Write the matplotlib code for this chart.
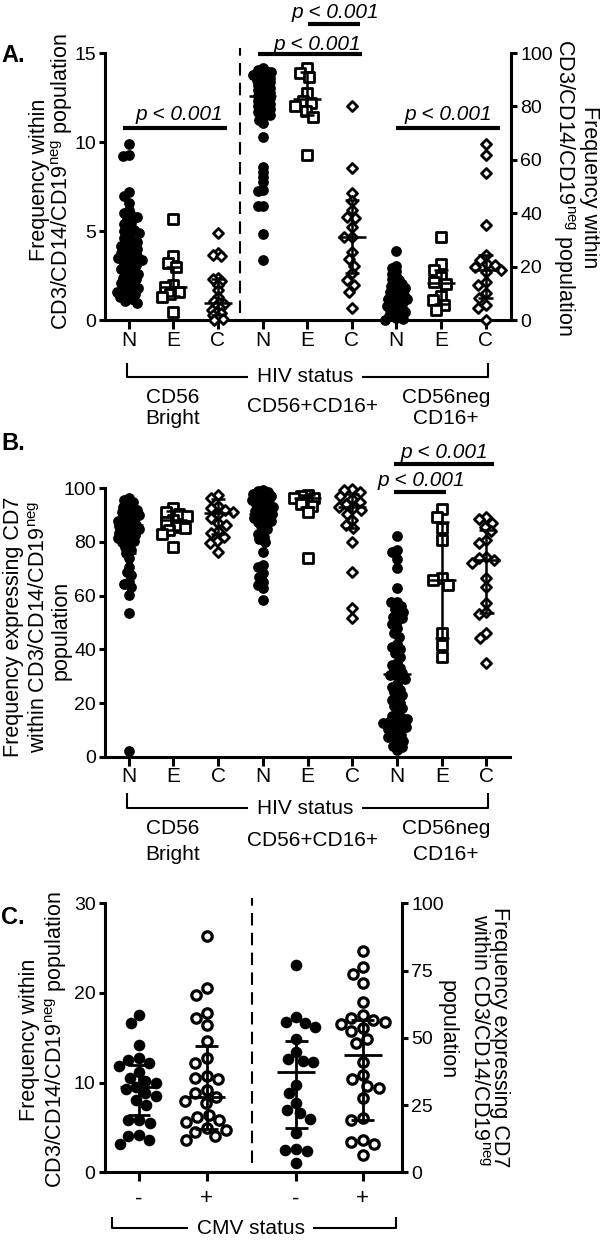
import numpy as np
import matplotlib
matplotlib.use("Agg")
import matplotlib.pyplot as plt
from matplotlib.lines import Line2D

plt.rcParams['font.family'] = ['Liberation Sans', 'DejaVu Sans']
plt.rcParams['mathtext.fontset'] = 'custom'
plt.rcParams['mathtext.rm'] = 'Liberation Sans'
plt.rcParams['mathtext.it'] = 'Liberation Sans:italic'
plt.rcParams['mathtext.bf'] = 'Liberation Sans:bold'

# ---------------- DATA ----------------
cat_labels_AB = ['N', 'E', 'C', 'N', 'E', 'C', 'N', 'E', 'C']
cat_labels_C = ['-', '+', '-', '+']

# Panel A (groups 1-3 on left axis 0-15, groups 4-9 on right axis 0-100)
A_bright_N = [9.9, 9.3, 9.2, 7.2, 7.0, 6.6, 6.2, 6.0, 5.9, 5.8, 5.7, 5.5, 5.4, 5.2, 5.1, 5.0,
              4.9, 4.8, 4.6, 4.5, 4.4, 4.3, 4.2, 4.1, 4.0, 3.9, 3.8, 3.7, 3.6, 3.5, 3.5, 3.4,
              3.3, 3.2, 3.1, 3.0, 2.9, 2.8, 2.7, 2.6, 2.5, 2.4, 2.3, 2.2, 2.1, 2.0, 1.9, 1.8,
              1.7, 1.6, 1.6, 1.5, 1.4, 1.3, 1.2, 1.1, 1.0]
A_bright_E = [5.7, 3.6, 3.2, 3.0, 2.0, 1.9, 1.6, 1.5, 1.3, 0.5]
A_bright_C = [4.9, 3.8, 3.7, 3.6, 2.4, 2.3, 2.2, 2.0, 1.7, 1.3, 1.1, 1.0, 0.9, 0.8, 0.7,
              0.6, 0.5, 0.4, 0.3, 0.2, 0.1, 0.0]
A_dp_N = [94.3, 93.8, 93.2, 92.8, 92.4, 92.0, 91.6, 91.2, 90.8, 90.4, 90.0, 89.5, 89.0, 88.5,
          88.0, 87.5, 87.0, 86.5, 86.0, 85.5, 85.0, 84.5, 84.0, 83.5, 83.0, 82.5, 82.0, 81.5,
          81.0, 80.5, 80.0, 79.5, 79.0, 78.5, 78.0, 77.5, 77.0, 76.0, 75.0, 74.0, 68.5, 57.5,
          55.6, 53.8, 51.9, 48.6, 48.5, 42.9, 42.9, 32.2, 22.5]
A_dp_E = [94.3, 92.4, 91.0, 84.9, 82.0, 81.3, 80.0, 78.5, 76.2, 61.9]
A_dp_C = [80.2, 56.9, 47.7, 44.7, 41.3, 38.8, 38.2, 35.1, 31.1, 31.1, 25.7, 22.9, 20.5, 17.6,
          15.1, 13.3, 10.8, 4.6]
A_neg_N = [26.1, 20.5, 19.8, 18.5, 17.5, 16.5, 15.5, 15.0, 14.0, 13.5, 13.0, 12.5, 12.0, 11.5,
           11.0, 10.5, 10.0, 9.5, 9.0, 8.5, 8.0, 8.0, 7.5, 7.0, 6.5, 6.0, 5.5, 5.0, 4.5, 4.0,
           3.5, 3.0, 2.5, 2.0, 1.5, 1.0, 0.5, 0.2]
A_neg_E = [31.1, 21.0, 18.9, 16.4, 14.5, 13.5, 9.0, 7.7, 5.8, 3.9]
A_neg_C = [66.0, 61.9, 55.0, 35.7, 24.5, 22.5, 21.0, 20.7, 20.1, 19.0, 18.0, 14.5, 13.3, 10.2,
           8.5, 5.8, 4.6, 0.2]
A_mid = [3.5, 1.9, 1.0, 84.0, 82.7, 31.1, 8.0, 14.0, 19.0]
A_lo = [1.5, 1.4, 0.3, 77.0, 77.0, 17.6, 3.0, 6.0, 8.5]
A_hi = [5.4, 3.0, 2.3, 90.0, 93.0, 45.0, 13.0, 19.0, 24.5]

# Panel B (0-100)
B_bright_N = [96.3, 95.5, 95.0, 94.0, 93.0, 92.5, 92.0, 91.5, 91.0, 90.5, 90.0, 89.5, 89.0,
              88.5, 88.0, 87.5, 87.0, 86.5, 86.0, 85.5, 85.0, 84.5, 84.0, 83.5, 83.0, 82.5,
              82.0, 81.5, 81.0, 80.5, 80.0, 79.0, 78.0, 77.0, 76.0, 73.9, 70.8, 68.9, 67.7,
              65.2, 64.5, 63.3, 60.2, 53.7, 2.2]
B_bright_E = [92.5, 91.3, 90.5, 89.5, 88.2, 87.5, 85.5, 85.1, 84.5, 83.0, 78.2]
B_bright_C = [97.5, 96.3, 93.5, 92.5, 91.9, 91.0, 90.5, 89.0, 87.0, 86.5, 84.0, 83.2, 82.0,
              80.5, 79.5, 76.4]
B_dp_N = [99.5, 99.0, 98.5, 98.0, 97.5, 97.0, 96.5, 96.0, 95.5, 95.0, 94.5, 94.0, 93.5, 93.0,
          92.5, 92.0, 91.5, 91.0, 90.5, 90.0, 89.5, 89.0, 88.5, 88.0, 87.5, 87.0, 86.0, 85.0,
          84.0, 83.0, 82.0, 81.0, 80.0, 76.4, 71.4, 70.8, 68.5, 67.1, 65.2, 64.0, 62.7, 58.4]
B_dp_E = [97.6, 97.3, 96.5, 96.2, 95.0, 94.0, 93.3, 91.3, 73.9]
B_dp_C = [99.6, 99.4, 98.7, 97.0, 96.0, 95.0, 94.0, 93.1, 92.5, 91.9, 90.5, 88.2, 86.5, 85.1,
          80.1, 68.9, 55.3, 51.6]
B_neg_N = [82.2, 77.0, 76.1, 73.5, 70.2, 62.7, 57.8, 57.5, 56.0, 55.0, 54.0, 53.0, 52.0, 51.5,
           50.5, 49.5, 48.0, 46.0, 44.5, 42.0, 41.0, 40.0, 38.5, 37.0, 35.0, 34.0, 33.0, 32.0,
           31.0, 30.5, 30.0, 29.0, 27.0, 26.0, 25.0, 24.0, 23.0, 22.0, 21.0, 20.0, 19.0, 18.0,
           16.0, 15.0, 14.5, 14.0, 13.5, 13.0, 12.5, 12.0, 11.5, 11.0, 10.5, 10.0, 9.0, 8.0,
           7.5, 7.0, 6.0, 5.0, 4.0, 3.5, 2.5]
B_neg_E = [92.2, 89.4, 85.1, 80.7, 66.5, 66.0, 64.0, 46.0, 41.6, 37.3]
B_neg_C = [89.2, 88.4, 87.0, 85.7, 84.0, 80.7, 79.5, 74.5, 73.9, 73.3, 72.0, 66.5, 63.3, 57.2,
           54.0, 53.0, 46.0, 44.1, 34.8]
B_mid = [86.3, 88.2, 90.7, 90.5, 96.3, 93.0, 30.8, 66.0, 73.3]
B_lo = [76.0, 84.5, 83.0, 80.0, 93.0, 85.3, 13.0, 44.1, 53.5]
B_hi = [92.0, 91.5, 96.0, 96.0, 97.5, 98.0, 52.0, 87.6, 84.5]

# Panel C (groups 1-2 left axis 0-30, groups 3-4 right axis 0-100)
C_freq_neg = [17.5, 16.7, 14.2, 12.8, 12.5, 12.2, 11.8, 11.2, 10.5, 10.2, 10.0, 9.5, 9.3, 8.8,
              8.5, 8.1, 7.5, 5.8, 5.8, 5.5, 4.2, 4.0, 3.6, 3.2]
C_freq_pos = [26.4, 20.5, 19.8, 17.8, 17.2, 16.4, 14.6, 12.7, 12.2, 10.7, 10.5, 10.4, 9.2, 8.8,
              8.4, 8.0, 7.7, 6.4, 6.2, 5.8, 5.6, 4.9, 4.7, 4.5, 4.0, 3.6]
C_cd7_neg = [77.1, 57.9, 56.0, 55.5, 54.1, 49.4, 44.8, 42.0, 41.5, 41.0, 32.5, 29.4, 25.7, 23.2,
             21.9, 20.0, 14.5, 8.8, 8.3, 8.0, 3.3]
C_cd7_pos = [82.3, 76.2, 73.7, 70.5, 63.4, 58.5, 57.2, 56.5, 56.0, 55.0, 53.5, 52.6, 49.4, 48.0,
             41.1, 36.2, 34.6, 32.0, 31.2, 27.5, 20.1, 19.4, 12.0, 11.4, 10.5, 6.4]
C_mid = [9.5, 8.4, 37.2, 43.6]
C_lo = [6.4, 4.8, 16.4, 19.4]
C_hi = [12.0, 14.1, 48.8, 56.6]

# ---------------- LAYOUT ----------------
W, H = 600, 1241
fig = plt.figure(figsize=(W / 100, H / 100), dpi=100)
fig.patch.set_facecolor('white')


def ax_at(l, t, r, b):
    return fig.add_axes([l / W, 1 - b / H, (r - l) / W, (b - t) / H])


def T(x, y, s, **kw):
    fig.text(x / W, 1 - y / H, s, **kw)


def L(xs, ys, lw=1.5, **kw):
    fig.add_artist(Line2D([x / W for x in xs], [1 - y / H for y in ys],
                          transform=fig.transFigure, color='k', lw=lw,
                          solid_capstyle='butt', **kw))


SP = 2.2
TICKFS = 14
CATFS = 15
LABFS = 15.5


def style(ax, right=False):
    ax.set_facecolor('none')
    ax.spines['top'].set_visible(False)
    if right:
        ax.spines['left'].set_visible(False)
        ax.spines['bottom'].set_visible(False)
        ax.spines['right'].set_linewidth(SP)
        ax.tick_params(axis='y', length=4.5, width=SP, labelsize=TICKFS, pad=2)
    else:
        ax.spines['right'].set_visible(False)
        ax.spines['left'].set_linewidth(SP)
        ax.spines['bottom'].set_linewidth(SP)
        ax.tick_params(axis='y', length=4.5, width=SP, labelsize=TICKFS, pad=2)
        ax.tick_params(axis='x', length=6.5, width=SP, labelsize=CATFS, pad=1)


def swarm(ax, xc, vals, d, **kw):
    vals = np.asarray(vals, float)
    tr = ax.transData
    pts = tr.transform(np.column_stack([np.full(len(vals), xc), vals]))
    x0 = pts[0, 0]
    ys = pts[:, 1]
    order = np.argsort(-ys)
    placed = []
    xs = np.zeros(len(vals))
    for i in order:
        y = ys[i]
        ivs = []
        for (px, py) in placed:
            dy = abs(py - y)
            if dy < d:
                dx = np.sqrt(d * d - dy * dy)
                ivs.append((px - x0 - dx, px - x0 + dx))
        cands = [0.0] + [a for a, b in ivs] + [b for a, b in ivs]
        cands.sort(key=lambda c: (abs(c), c))
        pick = 0.0
        for c in cands:
            if all(not (a + 1e-6 < c < b - 1e-6) for a, b in ivs):
                pick = c
                break
        xs[i] = x0 + pick
        placed.append((xs[i], y))
    data = tr.inverted().transform(np.column_stack([xs, ys]))
    ax.scatter(data[:, 0], vals, clip_on=False, zorder=3, **kw)


def errbar(ax, x, mid, lo, hi, wm, wc, lw=1.8):
    kw = dict(color='k', lw=lw, zorder=5, solid_capstyle='butt', clip_on=False)
    ax.plot([x, x], [lo, hi], **kw)
    ax.plot([x - wc, x + wc], [lo, lo], **kw)
    ax.plot([x - wc, x + wc], [hi, hi], **kw)
    ax.plot([x - wm, x + wm], [mid, mid], **kw)


FILLED = dict(s=60, c='k', linewidths=0)
SQUARE = dict(s=44, marker='s', facecolors='white', edgecolors='k', linewidths=2.0)
DIAM = dict(s=26, marker='D', facecolors='white', edgecolors='k', linewidths=2.0)

xpos = np.arange(1, 10)

# ---------------- PANEL A ----------------
axA = ax_at(105, 53, 511, 320.5)
axA.set_xlim(0.468, 9.57)
axA.set_ylim(0, 15)
axA2 = axA.twinx()
axA2.set_ylim(0, 100)
style(axA)
style(axA2, right=True)
axA.set_yticks([0, 5, 10, 15])
axA2.set_yticks([0, 20, 40, 60, 80, 100])
axA.set_xticks(xpos)
axA.set_xticklabels(cat_labels_AB)

swarm(axA, 1, A_bright_N, 6.0, **FILLED)
swarm(axA, 2, A_bright_E, 9.0, **SQUARE)
swarm(axA, 3, A_bright_C, 5.0, **DIAM)
swarm(axA2, 4, A_dp_N, 4.6, **FILLED)
swarm(axA2, 5, A_dp_E, 9.0, **SQUARE)
swarm(axA2, 6, A_dp_C, 8.0, **DIAM)
swarm(axA2, 7, A_neg_N, 5.0, **FILLED)
swarm(axA2, 8, A_neg_E, 9.0, **SQUARE)
swarm(axA2, 9, A_neg_C, 8.0, **DIAM)
for i in range(9):
    a = axA if i < 3 else axA2
    errbar(a, xpos[i], A_mid[i], A_lo[i], A_hi[i], 0.31, 0.16)

axA.plot([3.5, 3.5], [0.42, 15.3], color='k', lw=1.5, ls=(0, (6, 3.5)), clip_on=False)

# ---------------- PANEL B ----------------
axB = ax_at(105, 488.3, 510, 756.7)
axB.set_xlim(0.468, 9.526)
axB.set_ylim(0, 100)
style(axB)
axB.set_yticks([0, 20, 40, 60, 80, 100])
axB.set_xticks(xpos)
axB.set_xticklabels(cat_labels_AB)
swarm(axB, 1, B_bright_N, 5.5, **FILLED)
swarm(axB, 2, B_bright_E, 8.0, **SQUARE)
swarm(axB, 3, B_bright_C, 8.0, **DIAM)
swarm(axB, 4, B_dp_N, 5.5, **FILLED)
swarm(axB, 5, B_dp_E, 7.0, **SQUARE)
swarm(axB, 6, B_dp_C, 8.0, **DIAM)
swarm(axB, 7, B_neg_N, 6.0, **FILLED)
swarm(axB, 8, B_neg_E, 9.0, **SQUARE)
swarm(axB, 9, B_neg_C, 8.0, **DIAM)
for i in range(9):
    errbar(axB, xpos[i], B_mid[i], B_lo[i], B_hi[i], 0.31, 0.16)

# ---------------- PANEL C ----------------
xposC = [1, 2, 3.326, 4.314]
axC = ax_at(104.6, 903.3, 402, 1172.3)
axC.set_xlim(0.49, 4.896)
axC.set_ylim(0, 30)
axC2 = axC.twinx()
axC2.set_ylim(0, 100)
style(axC)
style(axC2, right=True)
axC.set_yticks([0, 10, 20, 30])
axC2.set_yticks([0, 25, 50, 75, 100])
axC.set_xticks(xposC)
axC.set_xticklabels(cat_labels_C, fontsize=16)
axC.tick_params(axis='x', pad=5)
FILLC = dict(s=70, c='k', linewidths=0)
OPENC = dict(s=46, marker='o', facecolors='white', edgecolors='k', linewidths=2.3)
swarm(axC, xposC[0], C_freq_neg, 11.0, **FILLC)
swarm(axC, xposC[1], C_freq_pos, 12.0, **OPENC)
swarm(axC2, xposC[2], C_cd7_neg, 11.0, **FILLC)
swarm(axC2, xposC[3], C_cd7_pos, 12.0, **OPENC)
for i in range(4):
    a = axC if i < 2 else axC2
    errbar(a, xposC[i], C_mid[i], C_lo[i], C_hi[i], 0.28, 0.17, lw=2.0)
axC.plot([2.674, 2.674], [1.0, 30.6], color='k', lw=1.5, ls=(0, (6, 3.5)), clip_on=False)

# ---------------- TEXT / ANNOTATIONS ----------------
T(1, 55, 'A.', fontsize=17, fontweight='bold', va='center', ha='left')
T(1, 444, 'B.', fontsize=17, fontweight='bold', va='center', ha='left')
T(1, 917, 'C.', fontsize=17, fontweight='bold', va='center', ha='left')

rot90 = dict(rotation=90, ha='center', va='baseline', rotation_mode='anchor', fontsize=LABFS)
rot270 = dict(rotation=270, ha='center', va='baseline', rotation_mode='anchor', fontsize=LABFS)
neg_line = r'CD3/CD14/CD19$^{\mathrm{neg}}$ population'

# A axis labels
T(45, 180, 'Frequency within', **rot90)
T(68, 182, neg_line, **rot90)
T(584, 187, 'Frequency within', **rot270)
T(558, 187, neg_line, **rot270)

# B axis label
T(19, 627, 'Frequency expressing CD7', **rot90)
T(45, 627, r'within CD3/CD14/CD19$^{\mathrm{neg}}$', **rot90)
T(67, 630, 'population', **rot90)

# C axis labels
T(35, 1040, 'Frequency within', **rot90)
T(62, 1040, neg_line, **rot90)
T(494, 1037, 'Frequency expressing CD7', **rot270)
T(473, 1040, r'within CD3/CD14/CD19$^{\mathrm{neg}}$', **rot270)
T(442, 1030, 'population', **rot270)

# p-value bars
PFS = 15
pkw = dict(fontsize=PFS, fontstyle='italic', ha='center', va='center')
L([123, 227], [128, 128], lw=3)
T(179, 115, 'p < 0.001', **pkw)
L([258, 361.5], [54, 54], lw=3)
T(317, 44, 'p < 0.001', **pkw)
L([308, 360], [24, 24], lw=3)
T(335, 12, 'p < 0.001', **pkw)
L([396, 500], [128, 128], lw=3)
T(448, 115, 'p < 0.001', **pkw)
L([394, 494], [464, 464], lw=3)
T(444, 452, 'p < 0.001', **pkw)
L([394, 446], [492, 492], lw=3)
T(421, 480, 'p < 0.001', **pkw)

# brackets & group labels
GFS = 15
for yb, ytop in [(377, 363), (808, 793)]:
    L([127, 127, 248], [ytop, yb, yb])
    L([362, 488, 488], [yb, yb, ytop])
    T(305, yb, 'HIV status', fontsize=GFS, ha='center', va='center')
for y1, y2, ymid in [(398, 418, 407), (828, 855, 840)]:
    T(173, y1, 'CD56', fontsize=GFS, ha='center', va='center')
    T(173, y2, 'Bright', fontsize=GFS, ha='center', va='center')
    T(313, ymid, 'CD56+CD16+', fontsize=GFS, ha='center', va='center')
    T(446, y1, 'CD56neg', fontsize=GFS, ha='center', va='center')
    T(446, y2, 'CD16+', fontsize=GFS, ha='center', va='center')

L([112, 112, 188], [1217, 1228, 1228])
L([313, 396, 396], [1228, 1228, 1217])
T(251, 1228, 'CMV status', fontsize=GFS, ha='center', va='center')

fig.savefig('out.png', dpi=100, facecolor='white')
